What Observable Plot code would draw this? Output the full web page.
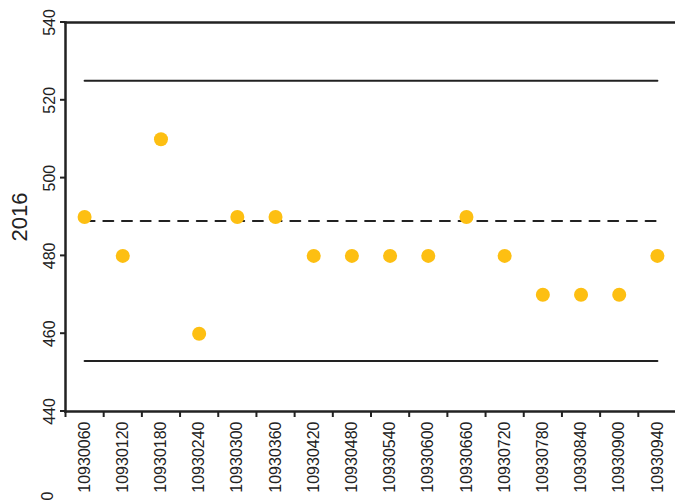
<!DOCTYPE html>
<html>
<head>
<meta charset="utf-8">
<script src="https://cdn.jsdelivr.net/npm/d3@7"></script>
<script src="https://cdn.jsdelivr.net/npm/@observablehq/plot@0.6"></script>
<style>
  html, body { margin: 0; padding: 0; background: #fff; }
  #wrap { position: relative; width: 675px; height: 502px; overflow: hidden; font-family: "Liberation Sans", Arial, sans-serif; }
  #cut { position: absolute; left: 44px; top: 488px; transform: rotate(-90deg); transform-origin: center; font-size: 16px; color: #222; line-height: 1; }
</style>
</head>
<body>
<div id="wrap"></div>
<script>
const categories = ["10930060","10930120","10930180","10930240","10930300","10930360","10930420","10930480","10930540","10930600","10930660","10930720","10930780","10930840","10930900","10930940"];
const values = [490,480,510,460,490,490,480,480,480,480,490,480,470,470,470,480];
const yTicks = [440,460,480,500,520,540];
const upperLimit = 525;
const centerLine = 489;
const lowerLimit = 453;
const yTitle = "2016";
const cutLabel = "0";

const data = categories.map((c, i) => ({cat: c, v: values[i]}));
const first = categories[0], last = categories[categories.length - 1];
const lineSeg = (y) => [{cat: first, y}, {cat: last, y}];

const bw = (676 - 65) / categories.length;

const chart = Plot.plot({
  width: 675,
  height: 502,
  marginLeft: 65,
  marginRight: -1,
  marginTop: 22,
  marginBottom: 91,
  style: {fontFamily: "Liberation Sans, Arial, sans-serif", background: "#fff", color: "#222"},
  x: {type: "band", domain: categories, padding: 0, round: false, axis: null, label: null},
  y: {domain: [440, 540], axis: null, label: null},
  marks: [
    Plot.line(lineSeg(upperLimit), {x: "cat", y: "y", stroke: "#222", strokeWidth: 2}),
    Plot.line(lineSeg(lowerLimit), {x: "cat", y: "y", stroke: "#222", strokeWidth: 2}),
    Plot.line(lineSeg(centerLine), {x: "cat", y: "y", stroke: "#222", strokeWidth: 2, strokeDasharray: "10,8.7"}),
    Plot.frame({anchor: "left", stroke: "#222", strokeWidth: 2.5}),
    Plot.frame({anchor: "bottom", stroke: "#222", strokeWidth: 2.5}),
    Plot.frame({anchor: "top", stroke: "#222", strokeWidth: 2.5}),
    Plot.axisX({ticks: categories, tickSize: 6, text: null, label: null, dx: -bw / 2, stroke: "#222", strokeWidth: 2}),
    Plot.text(categories, {x: d => d, frameAnchor: "bottom", rotate: -90, textAnchor: "end", lineAnchor: "middle", dy: 10, fontSize: 16, fill: "#222"}),
    Plot.tickY(yTicks, {y: d => d, render: (index, scales, values, dims) => {
      const g = d3.create("svg:g");
      for (const i of index) {
        g.append("line").attr("x1", dims.marginLeft - 5).attr("x2", dims.marginLeft)
          .attr("y1", scales.y(yTicks[i])).attr("y2", scales.y(yTicks[i]))
          .attr("stroke", "#222").attr("stroke-width", 2);
      }
      return g.node();
    }}),
    Plot.text(yTicks, {y: d => d, frameAnchor: "left", dx: -16, rotate: -90, textAnchor: "middle", lineAnchor: "middle", text: d => String(d), fontSize: 16, fill: "#222"}),
    Plot.text([yTitle], {frameAnchor: "left", dx: -46, rotate: -90, textAnchor: "middle", lineAnchor: "middle", text: d => d, fontSize: 22, fill: "#222"}),
    Plot.dot(data, {x: "cat", y: "v", r: 7, fill: "#FDBF12", stroke: "none"})
  ]
});
const wrap = document.getElementById("wrap");
wrap.appendChild(chart);
const cut = document.createElement("div");
cut.id = "cut";
cut.textContent = cutLabel;
wrap.appendChild(cut);
</script>
</body>
</html>
